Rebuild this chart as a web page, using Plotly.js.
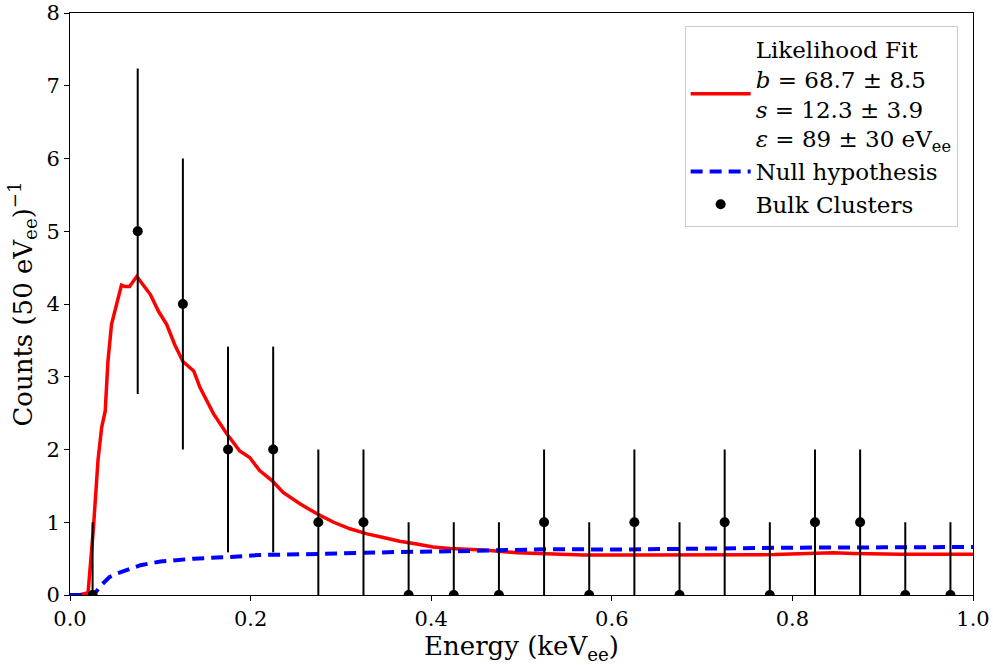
<!DOCTYPE html>
<html>
<head>
<meta charset="utf-8">
<script src="https://cdn.plot.ly/plotly-3.0.1.min.js"></script>
<style>html,body{margin:0;padding:0;background:#fff;}#chart{width:993px;height:665px;}</style>
</head>
<body>
<div id="chart"></div>
<script>
// Data: bulk cluster counts per 50 eV bin
const binCenters = [0.025,0.075,0.125,0.175,0.225,0.275,0.325,0.375,0.425,0.475,0.525,0.575,0.625,0.675,0.725,0.775,0.825,0.875,0.925,0.975];
const counts     = [0,5,4,2,2,1,1,0,0,0,1,0,1,0,1,0,1,1,0,0];
const errPlus    = [1,2.236,2,1.414,1.414,1,1,1,1,1,1,1,1,1,1,1,1,1,1,1];
const errMinus   = [0,2.236,2,1.414,1.414,1,1,0,0,0,1,0,1,0,1,0,1,1,0,0];

// Likelihood fit curve
const fitX = [0,0.010,0.020,0.026,0.031,0.035,0.039,0.042,0.046,0.052,0.057,0.061,0.066,0.074,0.081,0.089,0.098,0.107,0.116,0.125,0.137,0.144,0.159,0.174,0.188,0.199,0.210,0.224,0.236,0.255,0.273,0.292,0.310,0.329,0.347,0.365,0.384,0.402,0.421,0.458,0.495,0.532,0.568,0.624,0.700,0.780,0.845,0.867,0.920,1.0];
const fitY = [0,0,0.03,0.93,1.85,2.30,2.53,3.21,3.72,4.04,4.26,4.24,4.24,4.38,4.26,4.13,3.90,3.72,3.44,3.21,3.08,2.85,2.49,2.21,1.98,1.89,1.71,1.57,1.41,1.25,1.12,1.00,0.91,0.84,0.79,0.74,0.70,0.66,0.64,0.62,0.58,0.56,0.55,0.55,0.55,0.555,0.58,0.57,0.56,0.56];

// Null hypothesis curve
const nullX = [0,0.015,0.026,0.035,0.044,0.053,0.063,0.078,0.100,0.137,0.174,0.210,0.260,0.310,0.360,0.421,0.480,0.532,0.609,0.700,0.794,0.900,1.0];
const nullY = [0,0,0,0.14,0.25,0.30,0.34,0.41,0.46,0.50,0.52,0.55,0.56,0.58,0.59,0.60,0.62,0.63,0.625,0.64,0.65,0.655,0.66];

const fitName = 'Likelihood Fit<br><i>b</i> = 68.7 ± 8.5<br><i>s</i> = 12.3 ± 3.9<br><i>ε</i> = 89 ± 30 eV<sub>ee</sub>';

const traces = [
  {x: fitX, y: fitY, type: 'scatter', mode: 'lines', name: fitName,
   line: {color: '#ff0000', width: 3.5}},
  {x: nullX, y: nullY, type: 'scatter', mode: 'lines', name: 'Null hypothesis',
   line: {color: '#0000ff', width: 4, dash: '12px,7px'}},
  {x: binCenters, y: counts, type: 'scatter', mode: 'markers', name: 'Bulk Clusters',
   marker: {color: '#000', size: 10},
   error_y: {type: 'data', symmetric: false, array: errPlus, arrayminus: errMinus,
             color: '#000', thickness: 2, width: 0}}
];

const font = {family: 'DejaVu Serif', color: '#000'};
const layout = {
  width: 993, height: 665,
  margin: {l: 70, r: 20, t: 13, b: 70},
  paper_bgcolor: '#fff', plot_bgcolor: '#fff',
  font: Object.assign({}, font, {size: 21}),
  showlegend: true,
  legend: {x: 0.983, y: 0.977, xanchor: 'right', yanchor: 'top',
           bgcolor: 'rgba(255,255,255,0.8)', bordercolor: '#cccccc', borderwidth: 1,
           font: Object.assign({}, font, {size: 23}), tracegroupgap: 0, itemwidth: 60},
  xaxis: {range: [0, 1.0], tickvals: [0,0.2,0.4,0.6,0.8,1.0], tickformat: '.1f',
          showgrid: false, zeroline: false, showline: true, mirror: true,
          linecolor: '#000', linewidth: 1, ticks: 'outside', ticklen: 5, tickcolor: '#000',
          ticklabeloverflow: 'allow',
          tickfont: Object.assign({}, font, {size: 21}),
          title: {text: 'Energy (keV<sub>ee</sub>)', font: Object.assign({}, font, {size: 26}), standoff: 2}},
  yaxis: {range: [0, 8], tickvals: [0,1,2,3,4,5,6,7,8],
          showgrid: false, zeroline: false, showline: true, mirror: true,
          linecolor: '#000', linewidth: 1, ticks: 'outside', ticklen: 5, tickcolor: '#000',
          ticklabeloverflow: 'allow',
          tickfont: Object.assign({}, font, {size: 21}),
          title: {text: 'Counts (50 eV<sub>ee</sub>)<sup>−1</sup>', font: Object.assign({}, font, {size: 26}), standoff: 6}}
};

Plotly.newPlot('chart', traces, layout, {displayModeBar: false, staticPlot: true});
</script>
</body>
</html>
